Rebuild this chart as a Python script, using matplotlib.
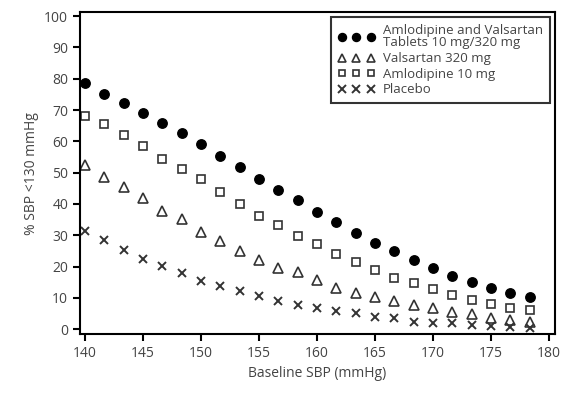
import matplotlib.pyplot as plt
import numpy as np

# baseline SBP (mmHg), one point every 5/3 mmHg
baseline = np.arange(24) * 5 / 3 + 140

combo = [78.5, 75.2, 72.3, 69.2, 66.0, 62.6, 59.1, 55.4, 51.8, 48.1, 44.3, 41.1,
         37.4, 34.1, 30.8, 27.6, 24.8, 22.0, 19.6, 17.1, 15.1, 13.2, 11.6, 10.2]
valsartan = [52.3, 48.7, 45.5, 41.9, 37.7, 35.1, 31.1, 28.2, 25.0, 22.0, 19.6, 18.1,
             15.7, 13.1, 11.4, 10.1, 8.9, 7.7, 6.6, 5.5, 4.7, 3.6, 2.9, 2.3]
amlodipine = [68.1, 65.4, 62.1, 58.5, 54.4, 51.1, 47.9, 43.9, 39.9, 36.3, 33.3, 29.7,
              27.2, 23.9, 21.3, 18.8, 16.2, 14.6, 12.9, 11.0, 9.4, 8.1, 6.9, 6.2]
placebo = [31.3, 28.6, 25.4, 22.3, 20.2, 17.8, 15.3, 13.8, 12.1, 10.5, 8.9, 7.7,
           6.6, 5.8, 5.0, 4.0, 3.4, 2.4, 2.0, 1.8, 1.3, 1.0, 0.6, 0.3]

labels = ['Amlodipine and Valsartan\nTablets 10 mg/320 mg', 'Valsartan 320 mg',
          'Amlodipine 10 mg', 'Placebo']
xticks = [140, 145, 150, 155, 160, 165, 170, 175, 180]
yticks = [0, 10, 20, 30, 40, 50, 60, 70, 80, 90, 100]

txt = '#444444'
plt.rcParams['font.family'] = ['Open Sans', 'DejaVu Sans']

fig = plt.figure(figsize=(5.65, 4.04), dpi=100)
ax = fig.add_axes([0.1416, 0.173, 0.8404, 0.797])

ax.plot(baseline, combo, 'o', color='black', markersize=6.8, label=labels[0])
ax.plot(baseline, valsartan, '^', mfc='none', mec='#333333', mew=1.2, markersize=6.8, label=labels[1])
ax.plot(baseline, amlodipine, 's', mfc='none', mec='#333333', mew=1.2, markersize=5.8, label=labels[2])
ax.plot(baseline, placebo, 'x', color='#333333', mew=1.4, markersize=6, label=labels[3])

ax.set_xlim(139.57, 180.5)
ax.set_ylim(-1.6, 101.3)
ax.set_xticks(xticks)
ax.set_yticks(yticks)
ax.tick_params(direction='out', length=5, width=1.5, colors='black', labelcolor=txt, labelsize=10)
for s in ax.spines.values():
    s.set_linewidth(1.5)

ax.set_xlabel('Baseline SBP (mmHg)', color=txt, fontsize=10)
ax.set_ylabel('% SBP <130 mmHg', color=txt, fontsize=10)

leg = ax.legend(loc='upper right', numpoints=3, fontsize=9.5, frameon=True, fancybox=False,
                borderpad=0.5, labelspacing=0.2, handlelength=2.8, handletextpad=0.6,
                borderaxespad=0.4, markerscale=0.85)
leg.get_frame().set_edgecolor('black')
leg.get_frame().set_linewidth(1.5)
for t in leg.get_texts():
    t.set_color(txt)
    t.set_linespacing(0.95)

fig.savefig('out.png', dpi=100)
